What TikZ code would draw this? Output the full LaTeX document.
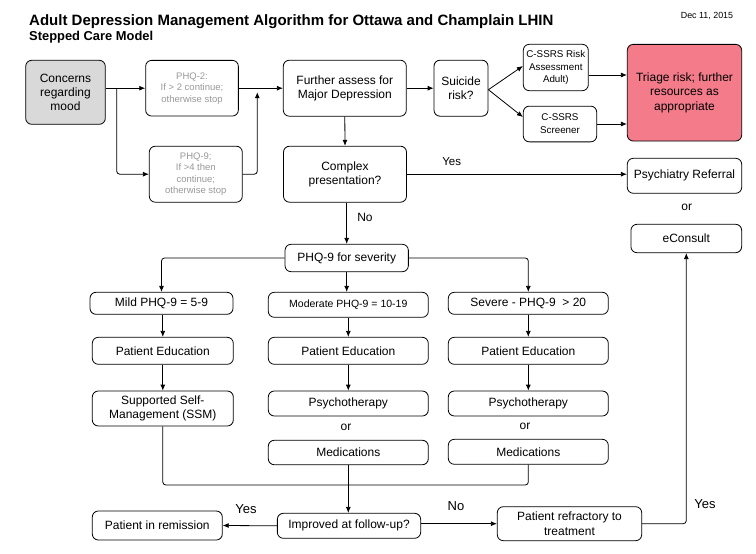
\documentclass[tikz,border=0pt]{standalone}
\usepackage{fontspec}
\setmainfont{Liberation Sans}
\usetikzlibrary{arrows.meta,calc}
\definecolor{cgray}{HTML}{D9D9D9}
\definecolor{triage}{HTML}{F47C8A}
\definecolor{ltext}{HTML}{999999}
\tikzset{
  box/.style={draw, rounded corners=6pt, line width=0.8pt, align=center, inner sep=0pt},
  t12/.style={font=\fontsize{12}{14.3}\selectfont},
  t10/.style={font=\fontsize{9.8}{12.8}\selectfont},
  t9/.style={font=\fontsize{9.5}{11.5}\selectfont, text=ltext},
  arr/.style={line width=0.8pt, -{Latex[length=6pt,width=5pt]}},
  ln/.style={line width=0.8pt},
  rc/.style={rounded corners=3pt},
  lbl/.style={inner sep=0pt}
}
\begin{document}
\begin{tikzpicture}[x=1pt,y=-1pt]
\useasboundingbox (0,0) rectangle (756,554);
\fill[white] (0,0) rectangle (756,554);
% titles
\node[lbl, anchor=base west, font=\bfseries\fontsize{15}{18}\selectfont] (title) at (29,25) {Adult Depression Management Algorithm for Ottawa and Champlain LHIN};
\node[lbl, anchor=base west, font=\bfseries\fontsize{12.9}{15}\selectfont] (subtitle) at (29,40) {Stepped Care Model};
\node[lbl, font=\fontsize{8.9}{10}\selectfont] (date) at (707,16) {Dec 11, 2015};
% top row
\node[box, t12, fill=cgray, minimum width=79.6pt, minimum height=64pt] (concerns) at (65.5,92.3) {Concerns\\regarding\\mood};
\node[box, t9, minimum width=92.7pt, minimum height=55.7pt] (phq2) at (192,88.2) {PHQ-2:\\If > 2 continue;\\otherwise stop};
\node[box, t12, minimum width=123pt, minimum height=56pt] (further) at (344.8,88.2) {Further assess for\\Major Depression};
\node[box, t12, minimum width=54pt, minimum height=56pt] (suicide) at (461,88.2) {Suicide\\risk?};
\node[box, t10, minimum width=65pt, minimum height=46.4pt] (cssrs1) at (555.8,67.5) {C-SSRS Risk\\Assessment\\Adult)};
\node[box, t10, minimum width=73.4pt, minimum height=35.7pt] (cssrs2) at (560,124) {C-SSRS\\Screener};
\node[box, t12, fill=triage, minimum width=114.4pt, minimum height=96.7pt] (triage) at (684.5,92.7) {Triage risk; further\\resources as\\appropriate};
% second row
\node[box, t9, minimum width=93pt, minimum height=56pt] (phq9) at (195.8,174.2) {PHQ-9;\\If >4 then\\continue;\\otherwise stop};
\node[box, t12, minimum width=123pt, minimum height=56pt] (complex) at (345,174.2) {Complex\\presentation?};
\node[box, t12, minimum width=114.4pt, minimum height=35pt] (psych) at (684.5,175.8) {Psychiatry Referral};
\node[lbl, t12] (or1) at (686.7,207.7) {or};
\node[box, t12, minimum width=110.7pt, minimum height=28.4pt] (econsult) at (686.3,238.5) {eConsult};
\node[lbl, font=\fontsize{11.5}{13}\selectfont] (yes1) at (451.7,161.7) {Yes};
\node[lbl, t12] (no1) at (365,217.7) {No};
% severity
\node[box, t12, minimum width=123.3pt, minimum height=27.4pt] (severity) at (346.7,258) {PHQ-9 for severity};
\node[box, t12, minimum width=143pt, minimum height=22pt] (mild) at (161.5,303.3) {Mild PHQ-9 = 5-9};
\node[box, font=\fontsize{10.5}{12}\selectfont, minimum width=160pt, minimum height=25pt] (moderate) at (348.3,304.8) {Moderate PHQ-9 = 10-19};
\node[box, t12, minimum width=160pt, minimum height=22pt] (severe) at (528.3,303.3) {Severe - PHQ-9 \ > 20};
% patient education
\node[box, t12, minimum width=141pt, minimum height=27pt] (pe1) at (162.8,350.8) {Patient Education};
\node[box, t12, minimum width=160pt, minimum height=27pt] (pe2) at (348.3,350.8) {Patient Education};
\node[box, t12, minimum width=160pt, minimum height=27pt] (pe3) at (528.3,350.8) {Patient Education};
% therapy
\node[box, t12, minimum width=141pt, minimum height=35pt] (ssm) at (162.8,408.5) {Supported Self-\\Management (SSM)};
\node[box, t12, minimum width=160pt, minimum height=25pt] (psy2) at (348.3,403.5) {Psychotherapy};
\node[box, t12, minimum width=160pt, minimum height=25pt] (psy3) at (528.3,403.5) {Psychotherapy};
\node[lbl, t12] (or2) at (346,427.3) {or};
\node[lbl, t12] (or3) at (525,426.7) {or};
\node[box, t12, minimum width=160pt, minimum height=24.5pt] (med2) at (348.3,452.5) {Medications};
\node[box, t12, minimum width=160pt, minimum height=25pt] (med3) at (528.3,451.8) {Medications};
% bottom row
\node[box, t12, minimum width=143.3pt, minimum height=25pt] (improved) at (349,525.8) {Improved at follow-up?};
\node[box, t12, minimum width=130pt, minimum height=29pt] (remission) at (157.3,525.5) {Patient in remission};
\node[box, t12, minimum width=144.4pt, minimum height=34pt] (refractory) at (569.5,523.7) {Patient refractory to\\treatment};
\node[lbl, font=\fontsize{13}{15}\selectfont] (yes2) at (246,509.3) {Yes};
\node[lbl, font=\fontsize{13}{15}\selectfont] (no2) at (456,506) {No};
\node[lbl, font=\fontsize{13}{15}\selectfont] (yes3) at (705,504) {Yes};
% connectors
\coordinate (br) at (116.7,88.2);
\coordinate (up) at (257.3,88.2);
\coordinate (hl) at (162.8,485);
\draw[arr] (phq2.west -| concerns.east) -- (phq2.west);
\draw[arr, rc] (br) |- (phq9.west);
\draw[arr] (phq2.east) -- (further.west);
\draw[arr, rc] (phq9.east) -| ($(up)+(0,4)$);
\draw[arr] (further.east) -- (suicide.west);
\draw[arr] ($(suicide.east)+(0,1.5)$) -- ($(cssrs1.west)+(0,-1.5)$);
\draw[arr] ($(suicide.east)+(0,1.5)$) -- ($(cssrs2.west)+(0,-7)$);
\draw[arr] ($(cssrs1.east)+(0,7.5)$) coordinate (t1) -- (t1 -| triage.west);
\draw[arr] (cssrs2.east) -- (cssrs2.east -| triage.west);
\draw[arr] (further.south) -- (complex.north);
\draw[arr] (complex.east) -- (complex.east -| psych.west);
\draw[arr] (severity.north |- complex.south) -- (severity.north);
\draw[arr, rc] (severity.west) -| (mild.north);
\draw[arr, rc] (severity.east) -| (severe.north);
\draw[arr] (severity.south) -- (severity.south |- moderate.north);
\draw[arr] (pe1.north |- mild.south) -- (pe1.north);
\draw[arr] (pe1.south) -- (ssm.north);
\draw[arr] (moderate.south) -- (pe2.north);
\draw[arr] (pe2.south) -- (psy2.north);
\draw[arr] (severe.south) -- (pe3.north);
\draw[arr] (pe3.south) -- (psy3.north);
\draw[ln, rc] (ssm.south) -- (hl) -| (med3.south);
\draw[arr] (med2.south) -- (med2.south |- improved.north);
\draw[arr] (improved.west) -- (remission.east);
\draw[arr] (refractory.west -| improved.east) -- (refractory.west);
\draw[arr, rc] (refractory.east) -| (econsult.south);
\end{tikzpicture}
\end{document}
